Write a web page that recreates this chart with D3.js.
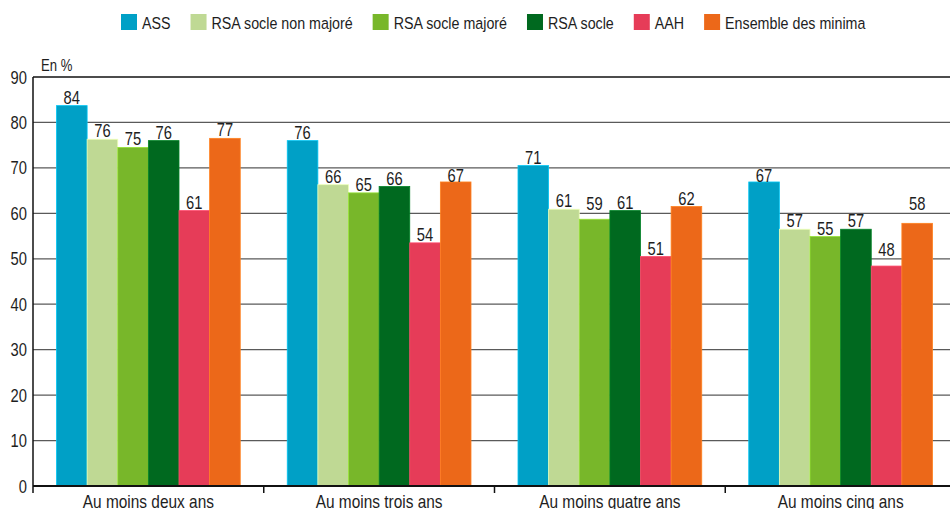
<!DOCTYPE html>
<html lang="fr">
  <head>
    <meta charset="utf-8">
    <title>Minima sociaux - au moins n ans</title>
    <script src="https://cdn.jsdelivr.net/npm/d3@7"></script>
    <style>
      body { margin: 0; background: #fff; }
      text { font-family: "Liberation Sans Narrow", "Liberation Sans", sans-serif; fill: #1e1e1e; }
    </style>
  </head>
  <body>
    <script>
      // data
      var categories = ["Au moins deux ans", "Au moins trois ans", "Au moins quatre ans", "Au moins cinq ans"];
      var seriesNames = ["ASS", "RSA socle non majoré", "RSA socle majoré", "RSA socle", "AAH", "Ensemble des minima"];
      var seriesColors = ["#00a0c6", "#bfd994", "#78b72a", "#00691f", "#e63c58", "#ec6819"];
      var ass = [83.7, 76.0, 70.5, 66.9];
      var rsaNonMajore = [76.3, 66.3, 60.9, 56.5];
      var rsaMajore = [74.5, 64.5, 58.7, 54.9];
      var rsaSocle = [76.0, 65.9, 60.6, 56.5];
      var aah = [60.6, 53.5, 50.5, 48.4];
      var ensemble = [76.5, 66.9, 61.5, 57.8];
      var yTicks = [0, 10, 20, 30, 40, 50, 60, 70, 80, 90];

      var seriesValues = [ass, rsaNonMajore, rsaMajore, rsaSocle, aah, ensemble];

      var w = 950, h = 509;
      var plotLeft = 33, plotRight = 956, plotTop = 77, plotBottom = 486;
      var narrow = 0.82; // the source font is a condensed one

      var svg = d3.select("body").append("svg")
                  .attr("width", w)
                  .attr("height", h);

      // squeeze a text horizontally around its own anchor point
      function squeeze(sel) {
        sel.each(function(){
          var t = d3.select(this);
          var tx = +t.attr("x"), ty = +t.attr("y");
          t.attr("x", 0).attr("y", 0)
           .attr("transform", "translate(" + tx + "," + ty + ") scale(" + narrow + ",1)");
        });
      }

      var x0 = d3.scaleBand().domain(categories).range([plotLeft, plotRight]).padding(0);
      var x1 = d3.scaleBand().domain(seriesNames)
                 .range([23.5, x0.bandwidth() - 23.5]).padding(0);
      var y = d3.scaleLinear().domain([0, 90]).range([plotBottom, plotTop]);

      // gridlines
      svg.selectAll("line.grid")
         .data(yTicks.filter(function(d){ return d > 0; }))
         .enter()
         .append("line")
         .attr("class", "grid")
         .attr("x1", plotLeft)
         .attr("x2", w)
         .attr("y1", function(d){ return y(d); })
         .attr("y2", function(d){ return y(d); })
         .attr("stroke", function(d){ return d === 90 ? "#111" : "#5a5a5a"; })
         .attr("stroke-width", function(d){ return d === 90 ? 1.5 : 1.2; });

      // y tick labels
      svg.selectAll("text.ytick")
         .data(yTicks)
         .enter()
         .append("text")
         .attr("class", "ytick")
         .attr("x", 27)
         .attr("y", function(d){ return y(d) + 6.5; })
         .attr("text-anchor", "end")
         .attr("font-size", "18px")
         .text(function(d){ return d; })
         .call(squeeze);

      svg.append("text")
         .attr("x", 41)
         .attr("y", 71)
         .attr("font-size", "16px")
         .text("En %")
         .call(squeeze);

      // bars
      var rows = [];
      categories.forEach(function(cat, ci){
        seriesNames.forEach(function(name, si){
          rows.push({cat: cat, name: name, color: seriesColors[si], value: seriesValues[si][ci]});
        });
      });

      svg.append("g").selectAll("rect")
         .data(rows)
         .enter()
         .append("rect")
         .attr("x", function(d){ return x0(d.cat) + x1(d.name); })
         .attr("y", function(d){ return y(d.value); })
         .attr("width", x1.bandwidth())
         .attr("height", function(d){ return y(0) - y(d.value); })
         .attr("fill", function(d){ return d.color; })
         .attr("stroke", function(d){ return d3.color(d.color).brighter(0.6); })
         .attr("stroke-width", 0.8);

      // value labels, nudged to stay clear of the gridlines
      var capH = 12.8;
      var gridYs = yTicks.filter(function(d){ return d > 0; }).map(function(d){ return y(d); });
      function hits(base) {
        return gridYs.filter(function(g){ return g > base - capH - 1 && g < base + 1; });
      }
      function labelY(d) {
        var t = y(d.value);
        var base = t - 2;
        if (!hits(base).length) return base;
        if (!hits(t).length) return t;
        return hits(t)[0] - 3;
      }
      svg.selectAll("text.val")
         .data(rows)
         .enter()
         .append("text")
         .attr("class", "val")
         .attr("x", function(d){ return x0(d.cat) + x1(d.name) + x1.bandwidth() / 2; })
         .attr("y", labelY)
         .attr("text-anchor", "middle")
         .attr("font-size", "18px")
         .text(function(d){ return Math.round(d.value); })
         .call(squeeze);

      // axis lines
      svg.append("line")
         .attr("x1", plotLeft).attr("x2", plotLeft)
         .attr("y1", plotTop).attr("y2", plotBottom + 7)
         .attr("stroke", "#111").attr("stroke-width", 1.5);
      svg.append("line")
         .attr("x1", plotLeft).attr("x2", w)
         .attr("y1", plotBottom).attr("y2", plotBottom)
         .attr("stroke", "#111").attr("stroke-width", 2);
      svg.selectAll("line.ctick")
         .data(categories.slice(1))
         .enter()
         .append("line")
         .attr("class", "ctick")
         .attr("x1", function(d){ return x0(d); })
         .attr("x2", function(d){ return x0(d); })
         .attr("y1", plotBottom)
         .attr("y2", plotBottom + 7)
         .attr("stroke", "#111")
         .attr("stroke-width", 1.5);

      svg.selectAll("text.cat")
         .data(categories)
         .enter()
         .append("text")
         .attr("class", "cat")
         .attr("x", function(d){ return x0(d) + x0.bandwidth() / 2; })
         .attr("y", 507.5)
         .attr("text-anchor", "middle")
         .attr("font-size", "18.8px")
         .text(function(d){ return d; })
         .call(squeeze);

      // legend
      var lx = 121;
      seriesNames.forEach(function(name, i){
        svg.append("rect")
           .attr("x", lx).attr("y", 14)
           .attr("width", 16).attr("height", 16)
           .attr("fill", seriesColors[i]);
        var t = svg.append("text")
           .attr("x", lx + 21).attr("y", 29)
           .attr("font-size", "17.4px")
           .text(name);
        var len = t.node().getComputedTextLength() * narrow;
        t.call(squeeze);
        lx += 21 + len + 20;
      });
    </script>
  </body>
</html>
